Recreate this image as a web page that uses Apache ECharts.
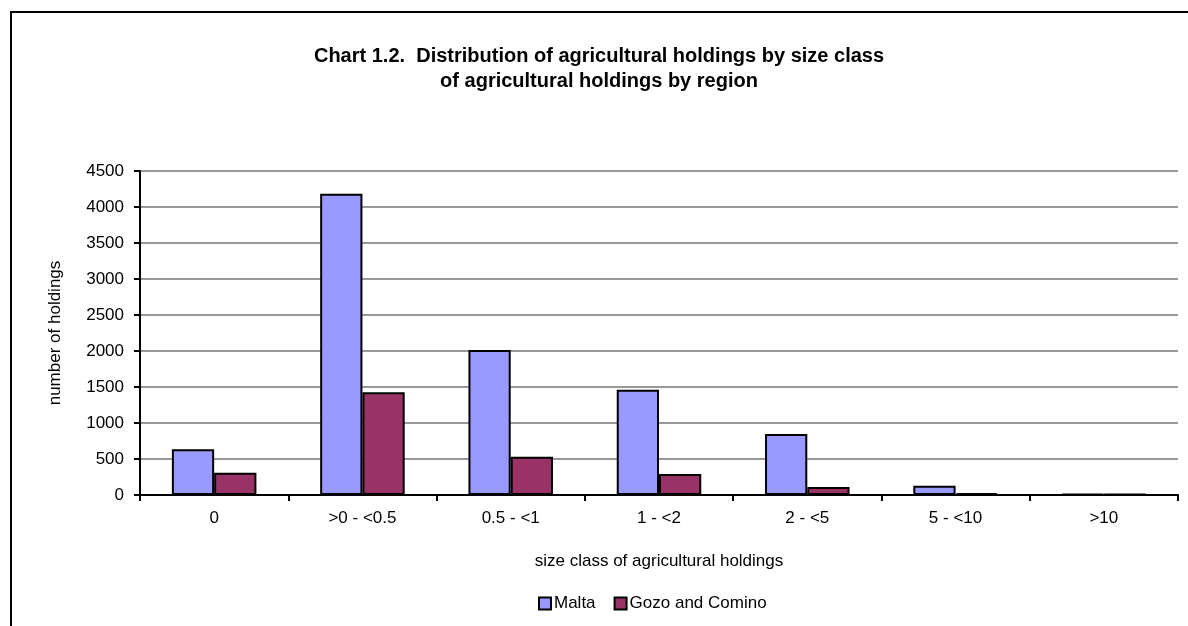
<!DOCTYPE html>
<html>
<head>
<meta charset="utf-8">
<script src="https://cdn.jsdelivr.net/npm/echarts@6/dist/echarts.min.js"></script>
<style>
    html, body { margin: 0; padding: 0; background: #fff; }
    #chart { width: 1188px; height: 626px; }
</style>
</head>
<body>
<div id="chart"></div>
<script>
// size classes (ha) along the x axis
const categories = ['0', '>0 - <0.5', '0.5 - <1', '1 - <2', '2 - <5', '5 - <10', '>10']
// number of holdings per region
const malta = [635, 4185, 2014, 1463, 847, 130, 15]
const gozo = [310, 1426, 532, 292, 111, 25, 12]
const yTicks = [0, 500, 1000, 1500, 2000, 2500, 3000, 3500, 4000, 4500]

const font = 'Arial, "Liberation Sans", sans-serif'
const fs = 17

const chart = echarts.init(document.getElementById('chart'))

const barStyle = (color) => ({
    color: color,
    borderColor: '#000',
    borderWidth: 2
})

chart.setOption({
    backgroundColor: '#fff',
    animation: false,
    textStyle: { fontFamily: font },
    title: {
        text: 'Chart 1.2.  Distribution of agricultural holdings by size class\nof agricultural holdings by region',
        left: 594,
        textAlign: 'center',
        top: 39,
        textStyle: {
            fontFamily: font,
            fontSize: 20,
            fontWeight: 'bold',
            color: '#000',
            lineHeight: 25
        }
    },
    graphic: [{
        // outer frame of the chart object (only left & top edges visible)
        type: 'polyline',
        shape: { points: [[11, 640], [11, 12], [1200, 12]] },
        style: { stroke: '#000', lineWidth: 2, fill: null }
    }],
    legend: {
        data: ['Malta', 'Gozo and Comino'],
        top: 590,
        left: 533,
        itemWidth: 12,
        itemHeight: 12,
        itemGap: 18,
        icon: 'rect',
        textStyle: { fontFamily: font, fontSize: fs, color: '#000', padding: [0, 0, 0, -2] }
    },
    grid: {
        left: 140,
        right: 10,
        top: 171,
        bottom: 131
    },
    xAxis: {
        type: 'category',
        data: categories,
        name: 'size class of agricultural holdings',
        nameLocation: 'middle',
        nameGap: 58,
        nameTextStyle: { fontFamily: font, fontSize: fs, color: '#000' },
        axisLine: { lineStyle: { color: '#000', width: 2 } },
        axisTick: { show: true, length: 6, lineStyle: { color: '#000', width: 2 } },
        axisLabel: { fontFamily: font, fontSize: fs, color: '#000', margin: 15 }
    },
    yAxis: {
        type: 'value',
        min: yTicks[0],
        max: yTicks[yTicks.length - 1],
        interval: 500,
        name: 'number of holdings',
        nameLocation: 'middle',
        nameGap: 76,
        nameTextStyle: { fontFamily: font, fontSize: fs, color: '#000' },
        axisLine: { show: true, lineStyle: { color: '#000', width: 2 } },
        axisTick: { show: true, length: 6, lineStyle: { color: '#000', width: 2 } },
        axisLabel: {
            fontFamily: font, fontSize: fs, color: '#000', margin: 16,
            formatter: (v) => String(v)
        },
        splitLine: { lineStyle: { color: '#999', width: 2 } }
    },
    series: [{
        name: 'Malta',
        type: 'bar',
        data: malta,
        barGap: '0%',
        barCategoryGap: '43%',
        itemStyle: barStyle('#9999FF')
    }, {
        name: 'Gozo and Comino',
        type: 'bar',
        data: gozo,
        barGap: '0%',
        barCategoryGap: '43%',
        itemStyle: barStyle('#993366')
    }]
})
</script>
</body>
</html>
